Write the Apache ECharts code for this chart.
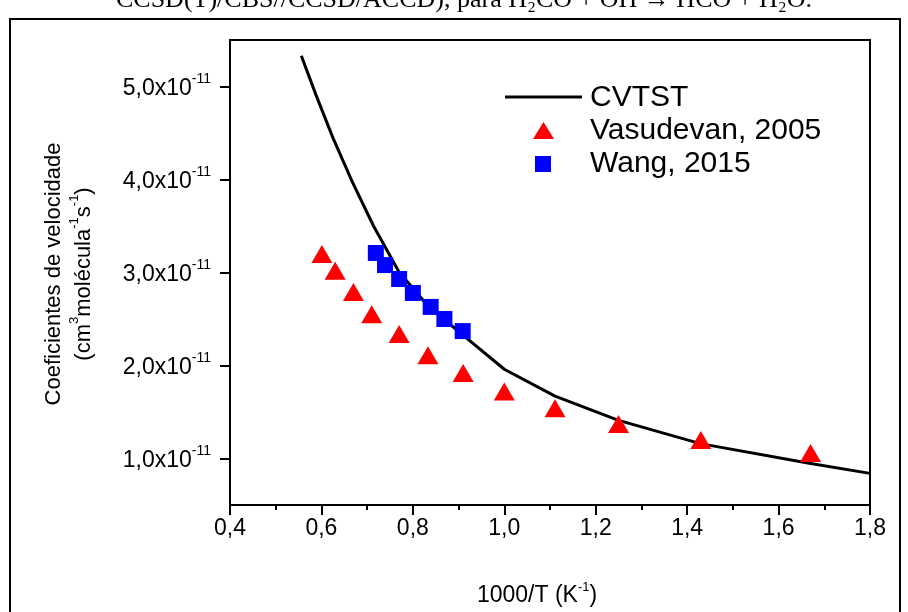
<!DOCTYPE html>
<html>
<head>
<meta charset="utf-8">
<script src="https://cdn.jsdelivr.net/npm/echarts@6/dist/echarts.min.js"></script>
<style>
html,body{margin:0;padding:0;background:#fff;}
#chart{width:908px;height:612px;}
</style>
</head>
<body>
<div id="chart"></div>
<script>
// Data (rate coefficients in units of 1e-11 cm^3 molécula^-1 s^-1)
const cvtstX = [0.556, 0.588, 0.625, 0.667, 0.714, 0.769, 0.833, 0.909, 1.0, 1.111, 1.25, 1.429, 1.667, 1.8];
const cvtstY = [5.33, 4.91, 4.45, 3.98, 3.50, 3.01, 2.64, 2.33, 1.96, 1.67, 1.41, 1.16, 0.95, 0.84];
const vasX = [0.601, 0.630, 0.670, 0.710, 0.770, 0.833, 0.910, 1.0, 1.111, 1.250, 1.430, 1.670];
const vasY = [3.20, 3.02, 2.79, 2.55, 2.34, 2.11, 1.92, 1.72, 1.54, 1.37, 1.20, 1.06];
const wangX = [0.719, 0.739, 0.770, 0.800, 0.839, 0.869, 0.909];
const wangY = [3.21, 3.08, 2.93, 2.78, 2.63, 2.50, 2.37];
const yTicks = [1, 2, 3, 4, 5];
const seriesNames = ['CVTST', 'Vasudevan, 2005', 'Wang, 2015'];

const zip = (a, b) => a.map((v, i) => [v, b[i]]);
const font = 'Liberation Sans';
const legendText = (y, txt) => ({ type: 'text', x: 590, y: y,
  style: { text: txt, fontFamily: font, fontSize: 30, fill: '#000', align: 'left', verticalAlign: 'middle' } });

const chart = echarts.init(document.getElementById('chart'));
chart.setOption({
  animation: false,
  backgroundColor: '#fff',
  grid: { left: 230, right: 38, top: 40, bottom: 103, show: true, borderColor: '#000', borderWidth: 2, backgroundColor: 'transparent' },
  graphic: [
    { type: 'rect', shape: { x: 10, y: 19, width: 890, height: 620 }, style: { fill: 'none', stroke: '#000', lineWidth: 2 } },
    { type: 'text', x: 464, y: 13, style: { text: 'CCSD(T)/CBS//CCSD/ACCD), para H₂CO + OH → HCO + H₂O.', font: '26px "Liberation Serif"', fill: '#000', align: 'center', verticalAlign: 'bottom' } },
    { type: 'text', x: 65, y: 274, rotation: Math.PI / 2,
      style: {
        text: '{a|Coeficientes de velocidade}\n{a|(cm}{s|3}{a|molécula}{s|-1}{a|s}{s|-1}{a|)}',
        align: 'center', verticalAlign: 'middle', fill: '#000',
        rich: {
          a: { fontFamily: font, fontSize: 22, lineHeight: 30, verticalAlign: 'bottom' },
          s: { fontFamily: font, fontSize: 13, lineHeight: 30, verticalAlign: 'top', padding: [3, 0, 0, 0] }
        }
      }
    },
    // legend
    { type: 'line', shape: { x1: 505, y1: 97, x2: 582, y2: 97 }, style: { stroke: '#000', lineWidth: 3 } },
    legendText(98, seriesNames[0]),
    { type: 'polygon', shape: { points: [[533, 139], [543.5, 122], [554, 139]] }, style: { fill: '#ff0000' } },
    legendText(131, seriesNames[1]),
    { type: 'rect', shape: { x: 535, y: 156, width: 16, height: 16 }, style: { fill: '#0000ff' } },
    legendText(164, seriesNames[2])
  ],
  xAxis: {
    type: 'value', min: 0.4, max: 1.8, interval: 0.2,
    axisLine: { onZero: false, lineStyle: { color: '#000', width: 2 } },
    axisTick: { show: true, inside: false, length: 10, lineStyle: { color: '#000', width: 2 } },
    minorTick: { show: true, splitNumber: 2, length: 5, lineStyle: { color: '#000', width: 2 } },
    splitLine: { show: false },
    axisLabel: { margin: 12, fontFamily: font, fontSize: 23, color: '#000', formatter: v => v.toFixed(1).replace('.', ',') },
    name: '{a|1000/T (K}{s|-1}{a|)}', nameLocation: 'middle', nameGap: 74,
    nameTextStyle: { padding: [0, 26, 0, 0], rich: {
      a: { fontFamily: font, fontSize: 23, color: '#000', lineHeight: 28, verticalAlign: 'bottom' },
      s: { fontFamily: font, fontSize: 13, color: '#000', lineHeight: 28, verticalAlign: 'top', padding: [2, 0, 0, 0] }
    } }
  },
  yAxis: {
    type: 'value', min: 0.5, max: 5.5,
    axisLine: { onZero: false, lineStyle: { color: '#000', width: 2 } },
    axisTick: { show: true, inside: false, length: 10, customValues: yTicks, lineStyle: { color: '#000', width: 2 } },
    splitLine: { show: false },
    axisLabel: {
      margin: 19, customValues: yTicks,
      formatter: v => '{a|' + v.toFixed(1).replace('.', ',') + 'x10}{s|-11}',
      rich: {
        a: { fontFamily: font, fontSize: 23, color: '#000', lineHeight: 28, verticalAlign: 'bottom', padding: [4, 0, 0, 0] },
        s: { fontFamily: font, fontSize: 14, color: '#000', lineHeight: 28, verticalAlign: 'top' }
      }
    }
  },
  series: [
    { name: seriesNames[0], type: 'line', data: zip(cvtstX, cvtstY), showSymbol: false, symbol: 'none', smooth: false,
      lineStyle: { color: '#000', width: 3 }, itemStyle: { color: '#000' }, z: 2 },
    { name: seriesNames[1], type: 'scatter', data: zip(vasX, vasY), symbol: 'triangle', symbolSize: [21, 18],
      itemStyle: { color: '#ff0000', opacity: 1 }, z: 3 },
    { name: seriesNames[2], type: 'scatter', data: zip(wangX, wangY), symbol: 'rect', symbolSize: 16,
      itemStyle: { color: '#0000ff', opacity: 1 }, z: 4 }
  ]
});
</script>
</body>
</html>
